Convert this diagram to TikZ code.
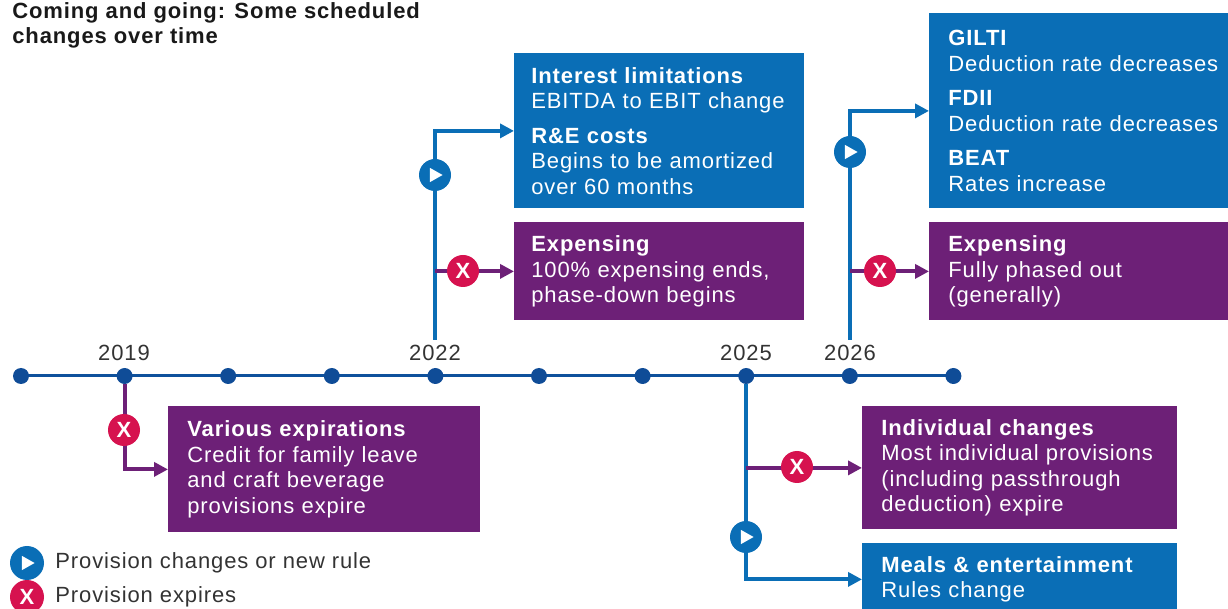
\documentclass[tikz,border=0pt]{standalone}
\usepackage{fontspec}
\setmainfont{Liberation Sans}[LetterSpace=4]
\usetikzlibrary{arrows.meta, positioning}

\definecolor{kblue}{HTML}{0A6EB6}
\definecolor{kdark}{HTML}{0F4C97}
\definecolor{kpurple}{HTML}{6D2077}
\definecolor{kred}{HTML}{D6124F}
\definecolor{ktext}{HTML}{333333}

\newcommand{\boxfont}{\fontsize{11}{12.75}\selectfont}
\newcommand{\gapline}{\\[4.5pt]}

\tikzset{
  dot/.style={circle, fill=kdark, inner sep=0pt, minimum size=8pt},
  year/.style={text=ktext, font=\boxfont},
  box/.style={anchor=north west, text=white, align=left, inner xsep=9.5pt, inner ysep=0pt, font=\boxfont},
  bluebox/.style={box, fill=kblue},
  purplebox/.style={box, fill=kpurple},
  tip/.style={-{Triangle[length=7pt,width=7pt]}},
  bline/.style={draw=kblue, line width=2pt},
  pline/.style={draw=kpurple, line width=2pt},
  playmark/.style={circle, fill=kblue, inner sep=0pt, minimum size=16pt,
    path picture={\fill[white] ([xshift=-2.6pt,yshift=3.6pt]path picture bounding box.center)
      -- ++(6.4pt,-3.6pt) -- ++(-6.4pt,-3.6pt) -- cycle;}},
  xmark/.style={circle, fill=kred, text=white, inner sep=0pt, minimum size=16pt,
    font=\fontsize{11}{11}\selectfont\bfseries},
  legend/.style={text=ktext, font=\boxfont, anchor=west}
}

\begin{document}
\begin{tikzpicture}[x=0.5pt, y=-0.5pt]
\useasboundingbox (0,0) rectangle (1228,609);

% title
\node (title) [anchor=north west, align=left, inner sep=0pt, text=black!90,
  font=\fontsize{11}{12.5}\selectfont\bfseries] at (12,2)
  {Coming and going: Some scheduled\\changes over time};

% timeline
\foreach \i in {0,...,9}
  \coordinate (t\i) at (21+103.6*\i,376);
\draw[kdark!85!kblue, line width=1.5pt] (t0) -- (t9);
\foreach \i in {0,...,9}
  \node (d\i) [dot] at (t\i) {};

\node (y19) [year] at (124,353) {2019};
\node (y22) [year] at (435,353) {2022};
\node (y25) [year] at (746,353) {2025};
\node (y26) [year] at (850,353) {2026};

% boxes
\node (ch22) [bluebox, inner xsep=8.5pt, text width=128pt, minimum height=77.5pt] at (514,53)
  {\textbf{Interest limitations}\\EBITDA to EBIT change\gapline
   \textbf{R\&E costs}\\Begins to be amortized\\over 60 months};
\node (ex22) [purplebox, inner xsep=8.5pt, text width=128pt, minimum height=49pt] at (514,222)
  {\textbf{Expensing}\\100\% expensing ends,\\phase-down begins};
\node (ch26) [bluebox, text width=140pt, minimum height=97.5pt] at (929,13)
  {\textbf{GILTI}\\Deduction rate decreases\gapline
   \textbf{FDII}\\Deduction rate decreases\gapline
   \textbf{BEAT}\\Rates increase};
\node (ex26) [purplebox, text width=140pt, minimum height=49pt] at (929,222)
  {\textbf{Expensing}\\Fully phased out\\(generally)};
\node (ex19) [purplebox, text width=137pt, minimum height=63pt] at (168,406)
  {\textbf{Various expirations}\\Credit for family leave\\and craft beverage\\provisions expire};
\node (ind25) [purplebox, text width=138.5pt, minimum height=61.5pt] at (862,406)
  {\textbf{Individual changes}\\Most individual provisions\\(including passthrough\\deduction) expire};
\node (meal25) [bluebox, text width=138.5pt, minimum height=36pt] at (862,543)
  {\textbf{Meals \& entertainment}\\Rules change};

% branches
\coordinate (b22) at (435,340);
\coordinate (b26) at (850,340);
\draw[bline, tip] (b22) |- (ch22.west);
\draw[pline, tip] (b22 |- ex22.west) -- (ex22.west);
\draw[bline, tip] (b26) |- (ch26.west);
\draw[pline, tip] (b26 |- ex26.west) -- (ex26.west);
\draw[pline, tip] (d1) |- (ex19.west);
\draw[bline, tip] (d7) |- (meal25.west);
\draw[pline, tip] (d7 |- ind25.west) -- (ind25.west);

% markers
\node (p22) [playmark] at (435,175) {};
\node (x22) [xmark] at (463,271) {X};
\node (p26) [playmark] at (850,152) {};
\node (x26) [xmark] at (880,271) {X};
\node (x19) [xmark] at (124,430) {X};
\node (x25) [xmark] at (797,467) {X};
\node (p25) [playmark] at (746,537) {};

% legend
\node (lp) [playmark, minimum size=17pt] at (27,563) {};
\node (lx) [xmark, minimum size=17pt] at (27,597) {X};
\node (lpt) [legend, right=2pt of lp] {Provision changes or new rule};
\node (lxt) [legend, right=2pt of lx] {Provision expires};
\end{tikzpicture}
\end{document}
